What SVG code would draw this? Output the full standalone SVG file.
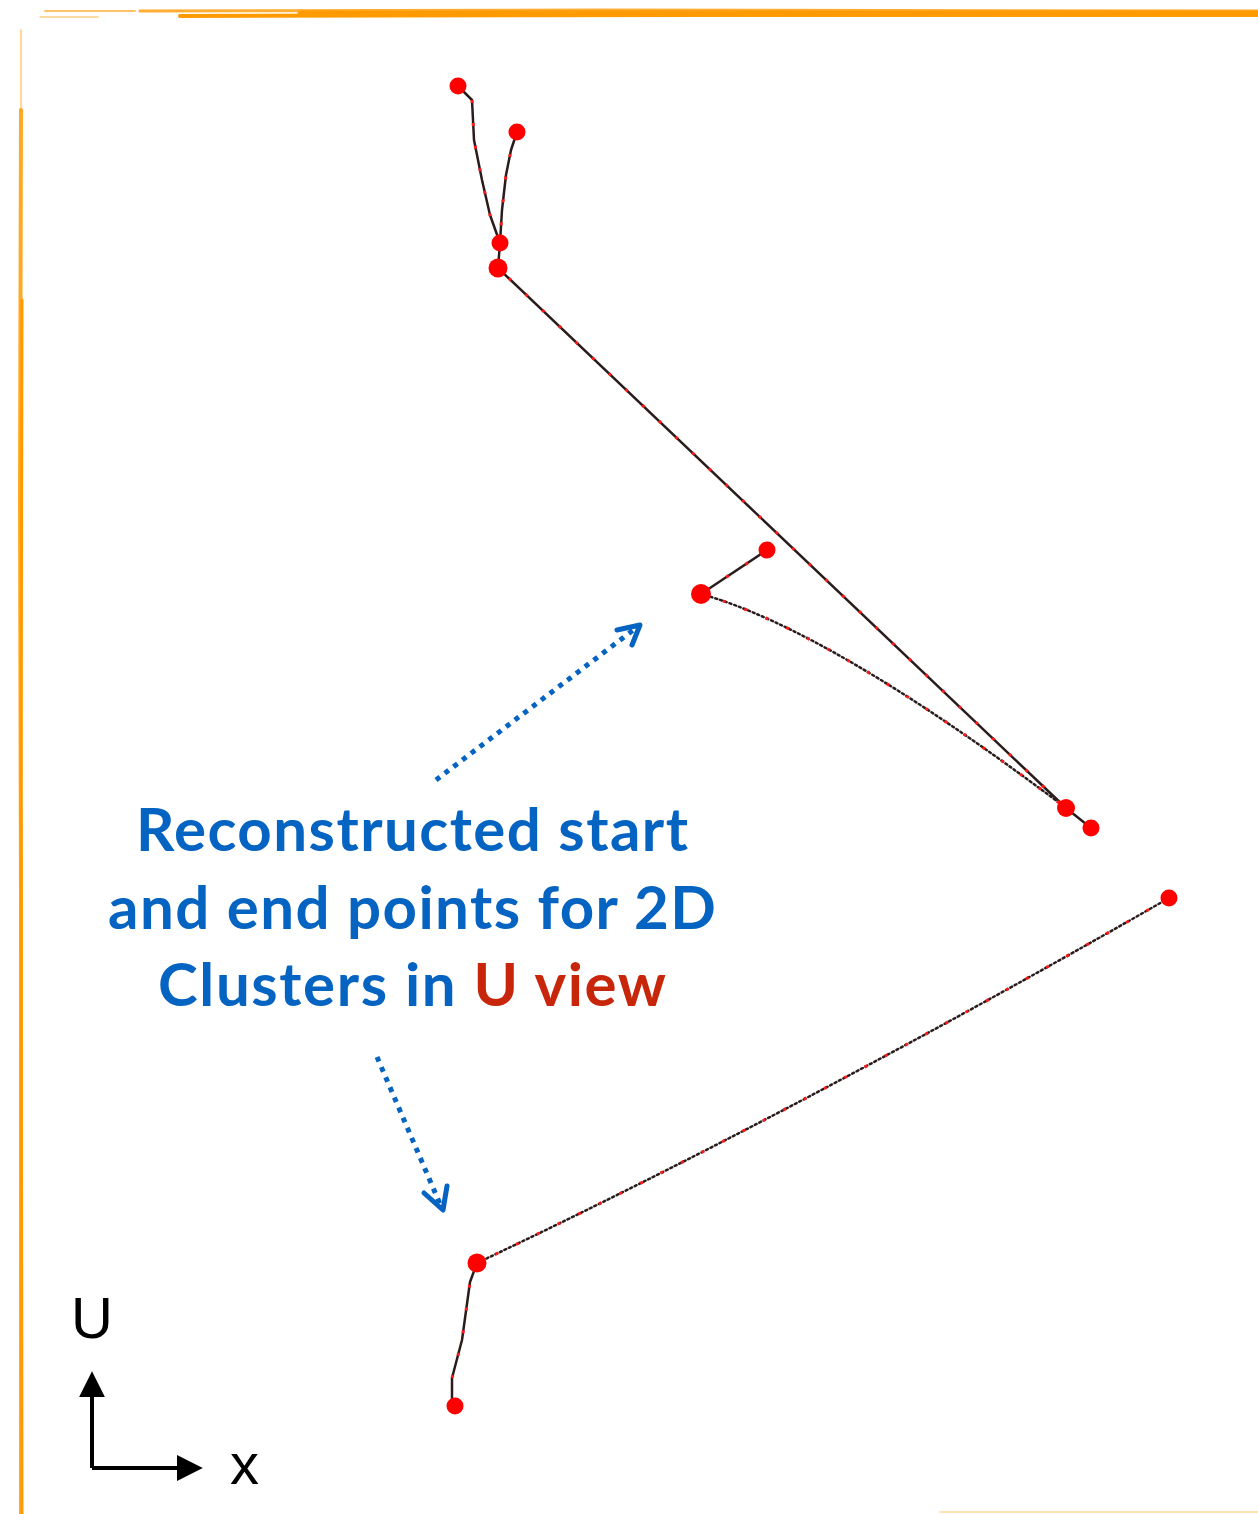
<svg xmlns="http://www.w3.org/2000/svg" width="1258" height="1514" viewBox="0 0 1258 1514">
  <defs>
    <style>
      .frame { fill: none; stroke: #ff9a00; stroke-linecap: round; }
      .track { fill: none; stroke: #2b1c1c; stroke-width: 2.5; stroke-linejoin: round; stroke-linecap: round; }
      .track-dot { fill: none; stroke: #2b1c1c; stroke-width: 2.5; stroke-dasharray: 2 3; stroke-linecap: round; }
      .hits { fill: none; stroke: #ff1a1a; stroke-width: 3; stroke-dasharray: 3 20; }
      .pt { fill: #ff0000; }
      .pointer { fill: none; stroke: #0563c1; stroke-width: 5; stroke-dasharray: 5 6; }
      .pointer-head { fill: none; stroke: #0563c1; stroke-width: 5; stroke-linecap: round; stroke-linejoin: round; }
      .label { font-family: Lato, "Open Sans", sans-serif; font-weight: bold; font-size: 60px; fill: #0563c1; text-anchor: middle; }
      .red { fill: #c8260b; }
      .axis { fill: none; stroke: #000; stroke-width: 4; }
      .axis-label { font-family: "Liberation Sans", Arial, sans-serif; font-size: 58px; fill: #000; }
    </style>
    <marker id="axis-head" viewBox="0 0 10 10" refX="2" refY="5" markerWidth="6.5" markerHeight="6.5" markerUnits="strokeWidth" orient="auto">
      <path d="M0,0 L10,5 L0,10 Z" fill="#000"/>
    </marker>
  </defs>

  <rect width="1258" height="1514" fill="#ffffff"/>

  <!-- hand-drawn orange frame -->
  <g id="frame">
    <path class="frame" d="M40,17 L98,17" stroke-width="1.5" opacity="0.5"/>
    <path class="frame" d="M45,11 L135,11" stroke-width="2" opacity="0.6"/>
    <path class="frame" d="M140,11 L600,10 L1258,11" stroke-width="3" opacity="0.8"/>
    <path class="frame" d="M180,16 L700,15 L1258,15" stroke-width="4"/>
    <path class="frame" d="M300,13 L1258,13" stroke-width="5"/>
    <path class="frame" d="M21,30 L21,110" stroke-width="2" opacity="0.4"/>
    <path class="frame" d="M21,110 L20,500 L21,900 L21,1514" stroke-width="4" opacity="0.85"/>
    <path class="frame" d="M22,300 L21,800 L22,1514" stroke-width="3"/>
    <path class="frame" d="M940,1512 L1258,1512" stroke-width="2" opacity="0.3"/>
  </g>

  <!-- cluster tracks -->
  <g id="connectors">
    <path id="track-a" class="track" d="M458,86 L472,100 L474,140 L482,180 L490,215 L500,243"/>
    <path class="hits" d="M472,100 L474,140 L482,180 L490,215 L500,243"/>
    <path id="track-b" class="track" d="M517,132 L511,150 L506,175 L502,210 L500,243"/>
    <path class="hits" d="M517,132 L511,150 L506,175 L502,210 L500,243"/>
    <path id="track-c" class="track" d="M500,243 L498,268"/>
    <path id="track-d" class="track" d="M498,268 L1066,808"/>
    <path class="hits" d="M498,268 L1066,808" stroke-dashoffset="8"/>
    <path id="track-e" class="track" d="M767,550 L701,594"/>
    <path class="hits" d="M767,550 L701,594"/>
    <path id="track-f" class="track-dot" d="M701,594 Q830,630 1066,808"/>
    <path class="hits" d="M701,594 Q830,630 1066,808"/>
    <path id="track-g" class="track" d="M1066,808 L1091,828"/>
    <path id="track-h" class="track-dot" d="M1169,898 Q800,1110 477,1263"/>
    <path class="hits" d="M1169,898 Q800,1110 477,1263"/>
    <path id="track-i" class="track" d="M477,1263 L470,1282 L462,1340 L452,1378 L452,1400 L455,1406"/>
    <path class="hits" d="M477,1263 L470,1282 L462,1340 L452,1378"/>
  </g>

  <!-- reconstructed start/end points -->
  <g id="points">
    <circle id="p1" class="pt" cx="458" cy="86" r="8.5"/>
    <circle id="p2" class="pt" cx="517" cy="132" r="8.5"/>
    <circle id="p3" class="pt" cx="500" cy="243" r="8.5"/>
    <circle id="p4" class="pt" cx="498" cy="268" r="9.5"/>
    <circle id="p5" class="pt" cx="767" cy="550" r="8.5"/>
    <circle id="p6" class="pt" cx="701" cy="594" r="10"/>
    <circle id="p7" class="pt" cx="1066" cy="808" r="9"/>
    <circle id="p8" class="pt" cx="1091" cy="828" r="8.5"/>
    <circle id="p9" class="pt" cx="1169" cy="898" r="8.5"/>
    <circle id="p10" class="pt" cx="477" cy="1263" r="9.5"/>
    <circle id="p11" class="pt" cx="455" cy="1406" r="8.5"/>
  </g>

  <!-- annotation -->
  <g id="annotation">
    <text class="label" x="412" y="851" textLength="552" lengthAdjust="spacing">Reconstructed start</text>
    <text class="label" x="412" y="929" textLength="608" lengthAdjust="spacing">and end points for 2D</text>
    <text class="label" x="412" y="1006" textLength="508" lengthAdjust="spacing">Clusters in <tspan class="red">U view</tspan></text>
  </g>

  <!-- dotted pointers -->
  <g id="pointers">
    <path class="pointer" d="M436,780 L636,628"/>
    <path class="pointer-head" d="M617,630 L640,625 L632,645"/>
    <path class="pointer" d="M377,1057 L440,1204"/>
    <path class="pointer-head" d="M424,1193 L443,1210 L447,1186"/>
  </g>

  <!-- axes -->
  <g id="axes">
    <path class="axis" d="M92,1468 L92,1392" marker-end="url(#axis-head)"/>
    <path class="axis" d="M92,1468 L182,1468" marker-end="url(#axis-head)"/>
    <text class="axis-label" x="92" y="1338" text-anchor="middle">U</text>
    <text class="axis-label" x="230" y="1484">x</text>
  </g>
</svg>
